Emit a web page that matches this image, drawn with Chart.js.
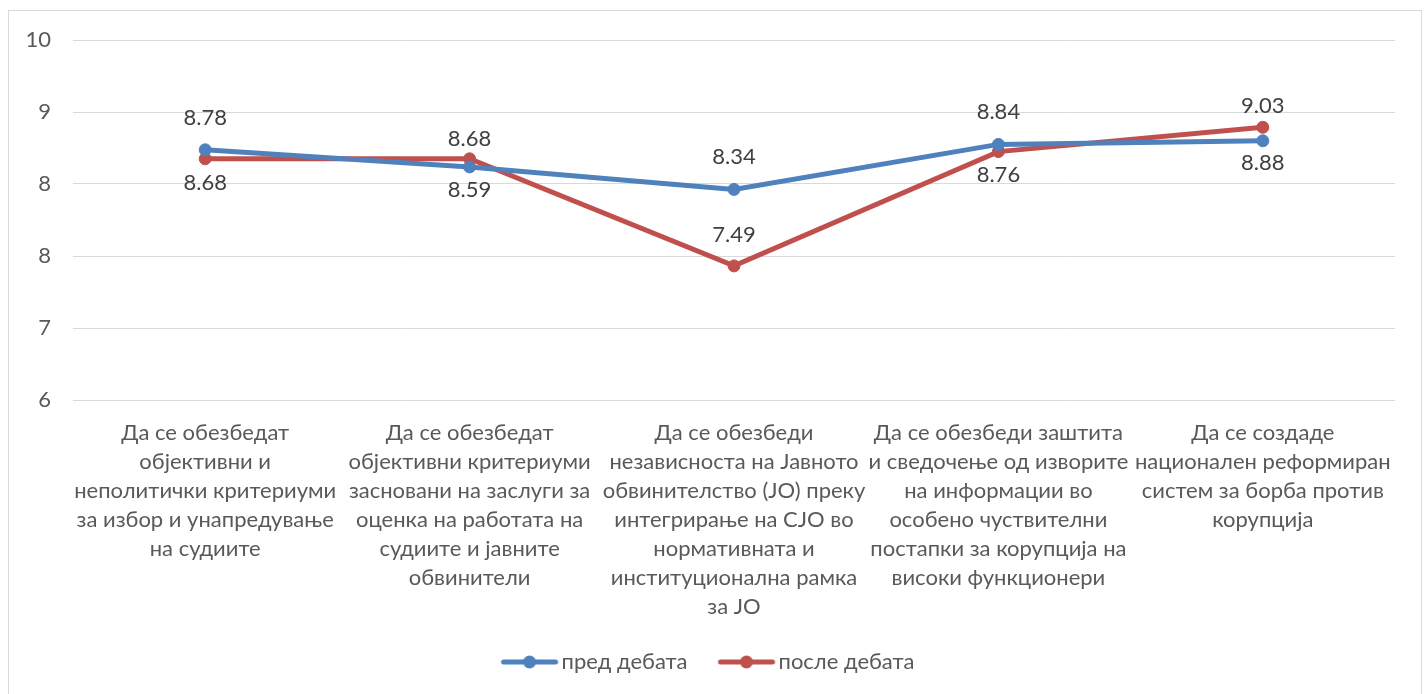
<!DOCTYPE html>
<html>
<head>
<meta charset="utf-8">
<script src="https://cdn.jsdelivr.net/npm/chart.js@4.4.0/dist/chart.umd.min.js"></script>
<style>
  html, body { margin: 0; padding: 0; background: #fff; overflow: hidden; }
  #ramka { position: absolute; left: 8px; top: 10px; width: 1414px; height: 700px; border: 1px solid #d9d9d9; box-sizing: border-box; }
  #sodrzina { position: absolute; left: 0; top: 0; width: 1424px; height: 694px; }
</style>
</head>
<body>
<div id="ramka"></div>
<div id="sodrzina"><canvas id="grafik"></canvas></div>
<script>
// kategorii (po redovi kako na slikata)
const kategorii = [
  ['Да се обезбедат', 'објективни и', 'неполитички критериуми', 'за избор и унапредување', 'на судиите'],
  ['Да се обезбедат', 'објективни критериуми', 'засновани на заслуги за', 'оценка на работата на', 'судиите и јавните', 'обвинители'],
  ['Да се обезбеди', 'независноста на Јавното', 'обвинителство (ЈО) преку', 'интегрирање на СЈО во', 'нормативната и', 'институционална рамка', 'за ЈО'],
  ['Да се обезбеди заштита', 'и сведочење од изворите', 'на информации во', 'особено чуствителни', 'постапки за корупција на', 'високи функционери'],
  ['Да се создаде', 'национален реформиран', 'систем за борба против', 'корупција']
];

const predDebata = [8.78, 8.59, 8.34, 8.84, 8.88];
const posleDebata = [8.68, 8.68, 7.49, 8.76, 9.03];

// y oska: 6 do 10, cekor 0.8 (etiketite se zaokruzeni kako vo Excel)
const yMin = 6;
const yMax = 10;
const yCekor = 0.8;

// pomestuvanje na brojkata od tockata (px, minus = gore)
const pomestiPred = [-32, 23, -32, -32, 22];
const pomestiPosle = [24, -20, -31, 23, -21];

const sina = '#4f81bd';
const crvena = '#c0504d';
const siva = '#595959';
const golemina = 22;

// mala slika: linija so tocka, za legendata
function legendaZnak(boja) {
  var c = document.createElement('canvas');
  c.width = 90;
  c.height = 16;
  var g = c.getContext('2d');
  g.strokeStyle = boja;
  g.lineWidth = 5;
  g.lineCap = 'round';
  g.beginPath();
  g.moveTo(33, 8);
  g.lineTo(85, 8);
  g.stroke();
  g.fillStyle = boja;
  g.beginPath();
  g.arc(59, 8, 6.5, 0, Math.PI * 2);
  g.fill();
  return c;
}

const vrednostiPlugin = {
  id: 'vrednosti',
  afterDatasetsDraw(chart) {
    const ctx = chart.ctx;
    const pomesti = [pomestiPred, pomestiPosle];
    ctx.save();
    ctx.font = golemina + 'px Lato';
    ctx.fillStyle = '#404040';
    ctx.textAlign = 'center';
    ctx.textBaseline = 'middle';
    chart.data.datasets.forEach(function (ds, i) {
      chart.getDatasetMeta(i).data.forEach(function (tocka, j) {
        ctx.fillText(ds.data[j].toFixed(2), tocka.x, tocka.y + pomesti[i][j]);
      });
    });
    ctx.restore();
  }
};

var ctx = document.getElementById('grafik');
var grafik = new Chart(ctx, {
  type: 'line',
  data: {
    labels: kategorii,
    datasets: [{
      label: 'пред дебата',
      data: predDebata,
      borderColor: sina,
      backgroundColor: sina,
      pointBackgroundColor: sina,
      pointBorderColor: sina,
      borderWidth: 5,
      pointRadius: 6,
      pointBorderWidth: 1,
      tension: 0,
      clip: false
    }, {
      label: 'после дебата',
      data: posleDebata,
      borderColor: crvena,
      backgroundColor: crvena,
      pointBackgroundColor: crvena,
      pointBorderColor: crvena,
      borderWidth: 5,
      pointRadius: 6,
      pointBorderWidth: 1,
      tension: 0,
      clip: false
    }]
  },
  options: {
    responsive: true,
    maintainAspectRatio: false,
    animation: false,
    layout: { padding: { top: 40, right: 29, left: 0, bottom: 11 } },
    plugins: {
      tooltip: { enabled: false },
      legend: {
        position: 'bottom',
        labels: {
          usePointStyle: true,
          pointStyleWidth: 70,
          padding: 10,
          color: siva,
          font: { family: 'Lato', size: golemina },
          generateLabels: function (chart) {
            var stavki = Chart.defaults.plugins.legend.labels.generateLabels(chart);
            stavki.forEach(function (s, i) {
              s.pointStyle = legendaZnak(chart.data.datasets[i].borderColor);
            });
            return stavki;
          }
        }
      }
    },
    scales: {
      x: {
        offset: true,
        grid: { display: false },
        border: { display: false },
        ticks: {
          padding: 10,
          color: siva,
          maxRotation: 0,
          autoSkip: false,
          font: { family: 'Lato', size: golemina, lineHeight: '29px' }
        },
        afterFit: function (s) { s.height = 241; }
      },
      y: {
        min: yMin,
        max: yMax,
        grid: { color: '#d9d9d9', lineWidth: 1, drawTicks: false },
        border: { display: false },
        ticks: {
          stepSize: yCekor,
          padding: 22,
          color: siva,
          font: { family: 'Lato', size: golemina },
          callback: function (v) { return Math.round(v).toString(); }
        },
        afterFit: function (s) { s.width = 73; }
      }
    }
  },
  plugins: [vrednostiPlugin]
});
</script>
</body>
</html>
